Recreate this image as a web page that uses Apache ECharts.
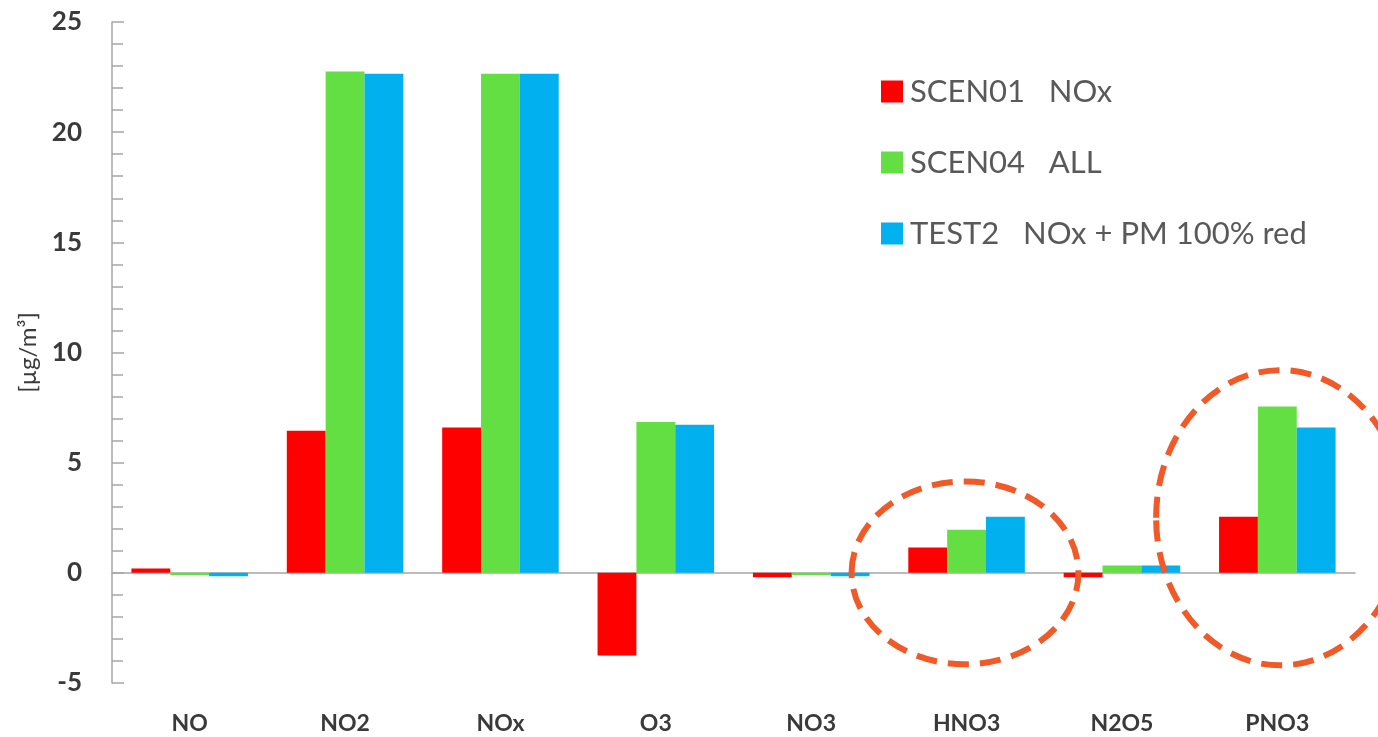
<!DOCTYPE html>
<html>
<head>
<meta charset="utf-8">
<script src="https://cdn.jsdelivr.net/npm/echarts@6/dist/echarts.min.js"></script>
<style>
  html, body { margin: 0; padding: 0; background: #fff; }
  #chart { width: 1378px; height: 737px; }
</style>
</head>
<body>
<div id="chart"></div>
<script>
// Concentration change per species, µg/m³
const categories = ['NO', 'NO2', 'NOx', 'O3', 'NO3', 'HNO3', 'N2O5', 'PNO3'];
const scen01Nox = [0.2, 6.45, 6.6, -3.75, -0.2, 1.15, -0.2, 2.55];
const scen04All = [-0.1, 22.75, 22.65, 6.85, -0.1, 1.95, 0.33, 7.55];
const test2NoxPm = [-0.15, 22.65, 22.65, 6.72, -0.15, 2.55, 0.33, 6.6];
const seriesNames = ['SCEN01   NOx', 'SCEN04   ALL', 'TEST2   NOx + PM 100% red'];
const yTicks = { min: -5, max: 25, step: 5 };

// Highlighted groups: category, centre value, half-width (in categories), half-height (in value units)
const highlights = [
  { cat: 'HNO3', dx: -0.01, value: 0.0, rx: 0.73, ry: 4.15 },
  { cat: 'PNO3', dx: 0.02, value: 2.5, rx: 0.80, ry: 6.7 }
];

const font = 'Lato, "Open Sans", sans-serif';
const chart = echarts.init(document.getElementById('chart'));

const barStyle = (color) => ({ color: color });

chart.setOption({
  animation: false,
  backgroundColor: '#ffffff',
  textStyle: { fontFamily: font },
  grid: { left: 112, right: 23, top: 22, bottom: 54, containLabel: false },
  legend: {
    orient: 'vertical',
    left: 876,
    top: 71,
    itemWidth: 22,
    itemHeight: 22,
    itemGap: 40,
    icon: 'rect',
    textStyle: { fontSize: 31, lineHeight: 30, color: '#595959', fontFamily: font, padding: [0, 0, 0, 2] },
    data: seriesNames
  },
  xAxis: {
    type: 'category',
    data: categories,
    axisLine: { onZero: true, lineStyle: { color: '#a6a6a6', width: 1.5 } },
    axisTick: { show: false },
    axisLabel: {
      interval: 0,
      fontSize: 23,
      fontWeight: 'bold',
      color: '#3a3a3a',
      fontFamily: font,
      margin: 29
    }
  },
  yAxis: {
    type: 'value',
    min: yTicks.min,
    max: yTicks.max,
    interval: yTicks.step,
    name: '[µg/m³]',
    nameLocation: 'middle',
    nameGap: 72,
    nameRotate: 90,
    nameTextStyle: { fontSize: 24, color: '#3a3a3a', fontFamily: font },
    axisLine: { show: true, lineStyle: { color: '#a6a6a6', width: 1.5 } },
    axisTick: { show: true, inside: true, length: 12, lineStyle: { color: '#a6a6a6', width: 1.5 } },
    minorTick: { show: true, splitNumber: 5, length: 11, lineStyle: { color: '#a6a6a6', width: 1.5 } },
    splitLine: { show: false },
    axisLabel: { fontSize: 26, fontWeight: 'bold', color: '#3a3a3a', margin: 30, align: 'right', fontFamily: font }
  },
  series: [
    { name: seriesNames[0], type: 'bar', data: scen01Nox, barGap: '0%', barCategoryGap: '25%', itemStyle: barStyle('#ff0000') },
    { name: seriesNames[1], type: 'bar', data: scen04All, barGap: '0%', barCategoryGap: '25%', itemStyle: barStyle('#63df43') },
    { name: seriesNames[2], type: 'bar', data: test2NoxPm, barGap: '0%', barCategoryGap: '25%', itemStyle: barStyle('#00b0ef') }
  ]
});

// Dashed ellipses around highlighted groups, placed from axis coordinates
function drawHighlights() {
  const catW = chart.convertToPixel({ xAxisIndex: 0 }, 1) - chart.convertToPixel({ xAxisIndex: 0 }, 0);
  const unitH = chart.convertToPixel({ yAxisIndex: 0 }, 0) - chart.convertToPixel({ yAxisIndex: 0 }, 1);
  const elements = highlights.map((h) => {
    const idx = categories.indexOf(h.cat);
    const cx = chart.convertToPixel({ xAxisIndex: 0 }, idx) + h.dx * catW;
    const cy = chart.convertToPixel({ yAxisIndex: 0 }, h.value);
    return {
      type: 'ellipse',
      shape: { cx: cx, cy: cy, rx: h.rx * catW, ry: h.ry * unitH },
      style: { fill: 'none', stroke: '#f05a28', lineWidth: 6, lineDash: [21, 11] },
      silent: true,
      z: 100
    };
  });
  chart.setOption({ graphic: elements });
}
drawHighlights();
</script>
</body>
</html>
